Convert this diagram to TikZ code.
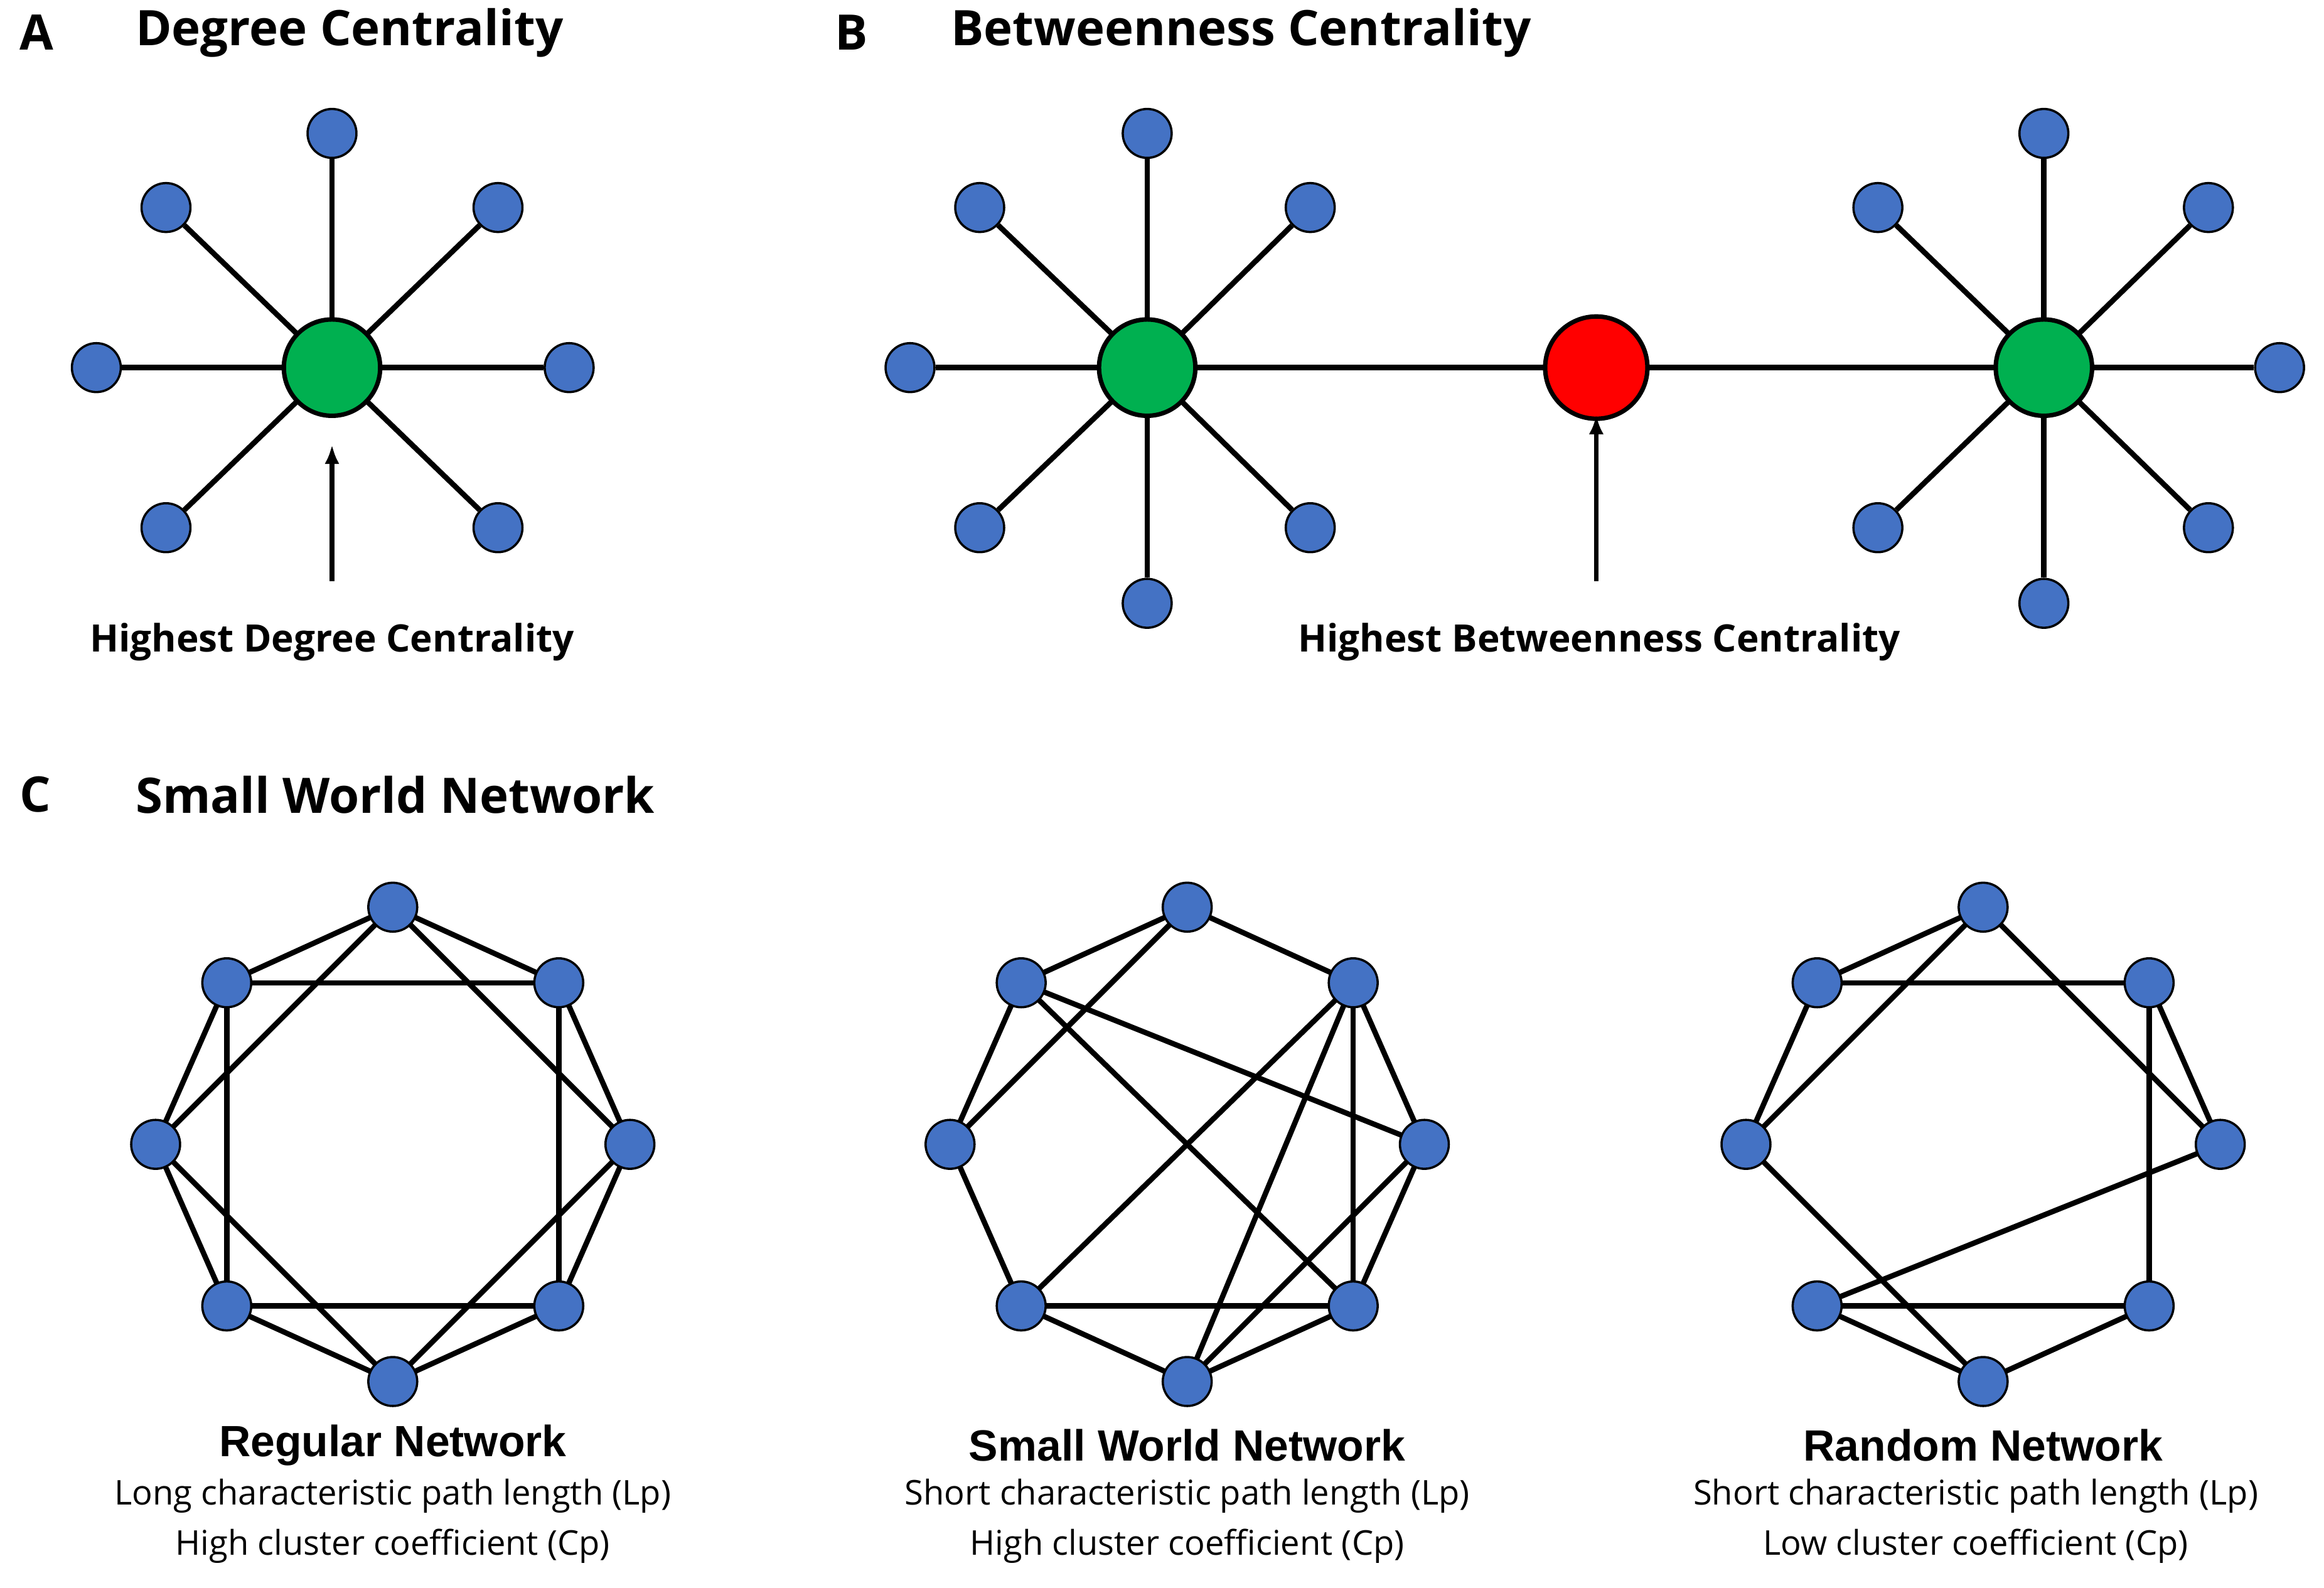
\documentclass[tikz,border=0pt]{standalone}
\usepackage{fontspec}
\usetikzlibrary{arrows.meta}
\setmainfont{Open Sans}
\newfontfamily\arialf{Liberation Sans}
\begin{document}
\begin{tikzpicture}[x=1pt,y=-1pt,
  bn/.style={circle,fill={rgb,255:red,68;green,114;blue,196},draw=black,line width=1.5pt,minimum size=33pt,inner sep=0pt},
  gn/.style={circle,fill={rgb,255:red,0;green,176;blue,80},draw=black,line width=3pt,minimum size=65pt,inner sep=0pt},
  rn/.style={circle,fill=red,draw=black,line width=3pt,minimum size=69pt,inner sep=0pt},
  ed/.style={line width=3.6pt},
  ttl/.style={font=\fontsize{33}{38}\selectfont\bfseries,anchor=west},
  hl/.style={font=\fontsize{25.5}{30}\selectfont\bfseries},
  nt/.style={font=\arialf\fontsize{29.5}{34}\selectfont\bfseries},
  st/.style={font=\fontsize{23}{28}\selectfont},
  arr/.style={line width=3pt,-{Latex[length=13pt,width=10pt]}}]
\useasboundingbox (0,0) rectangle (1568,1071);
% Titles
\node[ttl] (la) at (10,22) {A};
\node[ttl] (ta) at (88,22) {Degree Centrality};
\node[ttl] (lb) at (560,22) {B};
\node[ttl] (tb) at (638,22) {Betweenness Centrality};
\node[ttl] (lc) at (10,536) {C};
\node[ttl] (tc) at (88,536) {Small World Network};
% A
\node[bn] (a1) at (224,90) {};
\node[bn] (a2) at (112,140) {};
\node[bn] (a3) at (336,140) {};
\node[bn] (a4) at (65,248) {};
\node[bn] (a5) at (384,248) {};
\node[bn] (a6) at (112,356) {};
\node[bn] (a7) at (336,356) {};
\foreach \i in {1,...,7} \draw[ed] (224,248) -- (a\i);
\node[gn] (ac) at (224,248) {};
\coordinate (aa) at (224,392);
\draw[arr] (aa) -- (224,300);
\node[hl] (ha) at (224,433) {Highest Degree Centrality};
% B
\node[bn] (b1) at (774,90) {};
\node[bn] (b2) at (661,140) {};
\node[bn] (b3) at (884,140) {};
\node[bn] (b4) at (614,248) {};
\node[bn] (b6) at (661,356) {};
\node[bn] (b7) at (884,356) {};
\node[bn] (b8) at (774,407) {};
\node[bn] (c1) at (1379,90) {};
\node[bn] (c2) at (1267,140) {};
\node[bn] (c3) at (1490,140) {};
\node[bn] (c5) at (1538,248) {};
\node[bn] (c6) at (1267,356) {};
\node[bn] (c7) at (1490,356) {};
\node[bn] (c8) at (1379,407) {};
\foreach \i in {1,2,3,4,6,7,8} \draw[ed] (774,248) -- (b\i);
\foreach \i in {1,2,3,5,6,7,8} \draw[ed] (1379,248) -- (c\i);
\draw[ed] (774,248) -- (1379,248);
\node[gn] (bg) at (774,248) {};
\node[gn] (cg) at (1379,248) {};
\node[rn] (br) at (1077,248) {};
\coordinate (ba) at (1077,392);
\draw[arr] (ba) -- ([yshift=4pt]br.south);
\node[hl] (hb) at (1079,433) {Highest Betweenness Centrality};
% C networks
\foreach \p/\cx in {r/265,s/801,q/1338}{
  \coordinate (\p0) at (\cx,612);
  \coordinate (\p1) at (\cx-112,663);
  \coordinate (\p2) at (\cx-160,772);
  \coordinate (\p3) at (\cx-112,881);
  \coordinate (\p4) at (\cx,932);
  \coordinate (\p5) at (\cx+112,881);
  \coordinate (\p6) at (\cx+160,772);
  \coordinate (\p7) at (\cx+112,663);
}
\foreach \a/\b in {0/1,1/2,2/3,3/4,4/5,5/6,6/7,7/0,0/2,1/3,2/4,3/5,4/6,5/7,6/0,7/1}
  \draw[ed] (r\a) -- (r\b);
\foreach \a/\b in {0/1,1/2,2/3,3/4,4/5,5/6,6/7,7/0,1/6,1/5,0/2,7/3,7/4,7/5,3/5,4/6}
  \draw[ed] (s\a) -- (s\b);
\foreach \a/\b in {0/1,0/2,0/6,1/7,1/2,7/6,7/5,2/4,6/3,3/5,3/4,5/4}
  \draw[ed] (q\a) -- (q\b);
\foreach \p in {r,s,q}
  \foreach \i in {0,...,7}
    \node[bn] (n\p\i) at (\p\i) {};
\node[nt] (nr) at (265,975) {Regular Network};
\node[st] (r1) at (265,1009) {Long characteristic path length (Lp)};
\node[st] (r2) at (265,1043) {High cluster coefficient (Cp)};
\node[nt] (ns) at (801,975) {Small World Network};
\node[st] (s1) at (801,1009) {Short characteristic path length (Lp)};
\node[st] (s2) at (801,1043) {High cluster coefficient (Cp)};
\node[nt] (nq) at (1338,975) {Random Network};
\node[st] (q1) at (1333,1009) {Short characteristic path length (Lp)};
\node[st] (q2) at (1333,1043) {Low cluster coefficient (Cp)};
\end{tikzpicture}
\end{document}
